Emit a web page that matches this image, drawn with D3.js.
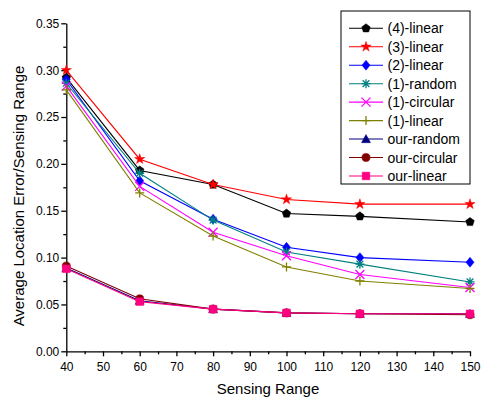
<!DOCTYPE html>
<html>
<head>
<meta charset="utf-8">
<script src="https://cdn.jsdelivr.net/npm/d3@7"></script>
<style>
  body { margin: 0; background: #fff; }
  svg text { font-family: "Liberation Sans", Arial, sans-serif; fill: #000; }
</style>
</head>
<body>
<svg id="chart" width="481" height="400"></svg>
<script>
// sensing range on x
var ranges = [40, 60, 80, 100, 120, 150];

var names = ["(4)-linear", "(3)-linear", "(2)-linear", "(1)-random", "(1)-circular",
             "(1)-linear", "our-random", "our-circular", "our-linear"];

var linear4   = [0.292, 0.193, 0.178, 0.147, 0.144, 0.138];
var linear3   = [0.300, 0.205, 0.178, 0.162, 0.157, 0.157];
var linear2   = [0.290, 0.182, 0.141, 0.111, 0.100, 0.095];
var random1   = [0.286, 0.190, 0.140, 0.106, 0.093, 0.074];
var circular1 = [0.283, 0.176, 0.127, 0.102, 0.082, 0.068];
var linear1   = [0.279, 0.169, 0.123, 0.090, 0.075, 0.067];
var ourRandom   = [0.089, 0.054, 0.045, 0.041, 0.040, 0.040];
var ourCircular = [0.091, 0.056, 0.045, 0.041, 0.040, 0.039];
var ourLinear   = [0.088, 0.053, 0.045, 0.041, 0.040, 0.040];

var seriesValues = [linear4, linear3, linear2, random1, circular1, linear1, ourRandom, ourCircular, ourLinear];
var colors = ["#000000", "#ff0000", "#0000ff", "#008080", "#ff00ff", "#808000", "#000080", "#800000", "#ff0080"];
var shapes = ["pentagon", "star", "diamond", "asterisk", "cross", "plus", "triangle", "circle", "square"];

var xTicks = [40, 50, 60, 70, 80, 90, 100, 110, 120, 130, 140, 150];
var yTicks = [0, 0.05, 0.10, 0.15, 0.20, 0.25, 0.30, 0.35];

var svg = d3.select("#chart");
var x = d3.scaleLinear().domain([40, 150]).range([66.3, 470]);
var y = d3.scaleLinear().domain([0, 0.35]).range([351.3, 23.3]);

// axes
var xAxis = svg.append("g").attr("transform", "translate(0," + y(0) + ")")
    .call(d3.axisBottom(x).tickValues(xTicks).tickFormat(d3.format("d")).tickSize(5).tickSizeOuter(0));
svg.append("g").attr("transform", "translate(0," + y(0) + ")")
    .call(d3.axisBottom(x).tickValues(d3.range(45, 150, 10)).tickFormat("").tickSize(3).tickSizeOuter(0))
    .select(".domain").remove();
var yAxis = svg.append("g").attr("transform", "translate(" + x(40) + ",0)")
    .call(d3.axisLeft(y).tickValues(yTicks).tickFormat(d3.format(".2f")).tickSize(5).tickSizeOuter(0));
svg.append("g").attr("transform", "translate(" + x(40) + ",0)")
    .call(d3.axisLeft(y).tickValues(d3.range(0.025, 0.35, 0.05)).tickFormat("").tickSize(3).tickSizeOuter(0))
    .select(".domain").remove();

svg.selectAll(".tick text").attr("font-size", 12).style("font-family", "Liberation Sans, Arial, sans-serif");
xAxis.selectAll(".tick text").attr("dy", "0.95em");
yAxis.selectAll(".tick text").attr("x", -7);
svg.selectAll(".domain, .tick line").attr("stroke", "#000").attr("stroke-width", 1.3);

svg.append("text").attr("x", 268).attr("y", 394).attr("text-anchor", "middle")
    .attr("font-size", 15).text("Sensing Range");
svg.append("text").attr("transform", "translate(24," + 196 + ") rotate(-90)")
    .attr("text-anchor", "middle").attr("font-size", 15)
    .text("Average Location Error/Sensing Range");

function markerPath(shape, s) {
    var p = d3.path();
    if (shape === "pentagon") {
        for (var i = 0; i < 5; i++) {
            var a = -Math.PI / 2 + i * 2 * Math.PI / 5;
            if (i === 0) p.moveTo(s * Math.cos(a), s * Math.sin(a)); else p.lineTo(s * Math.cos(a), s * Math.sin(a));
        }
        p.closePath();
        return p.toString();
    }
    if (shape === "star") return d3.symbol(d3.symbolStar, s * s * 1.6)();
    if (shape === "diamond") { p.moveTo(0, -s * 1.1); p.lineTo(s * 0.9, 0); p.lineTo(0, s * 1.1); p.lineTo(-s * 0.9, 0); p.closePath(); return p.toString(); }
    if (shape === "triangle") { p.moveTo(0, -s); p.lineTo(s, s * 0.8); p.lineTo(-s, s * 0.8); p.closePath(); return p.toString(); }
    if (shape === "circle") return d3.symbol(d3.symbolCircle, s * s * 2.6)();
    if (shape === "square") { p.rect(-s * 0.85, -s * 0.85, s * 1.7, s * 1.7); return p.toString(); }
    if (shape === "cross") { p.moveTo(-s, -s); p.lineTo(s, s); p.moveTo(-s, s); p.lineTo(s, -s); return p.toString(); }
    if (shape === "plus") { p.moveTo(-s, 0); p.lineTo(s, 0); p.moveTo(0, -s); p.lineTo(0, s); return p.toString(); }
    if (shape === "asterisk") {
        p.moveTo(-s, 0); p.lineTo(s, 0); p.moveTo(0, -s); p.lineTo(0, s);
        p.moveTo(-s * 0.75, -s * 0.75); p.lineTo(s * 0.75, s * 0.75);
        p.moveTo(-s * 0.75, s * 0.75); p.lineTo(s * 0.75, -s * 0.75);
        return p.toString();
    }
}
function isOpen(shape) { return shape === "cross" || shape === "plus" || shape === "asterisk"; }

var line = d3.line().x(function(d, i) { return x(ranges[i]); }).y(function(d) { return y(d); });

var plot = svg.append("g");
seriesValues.forEach(function(vals, k) {
    var g = plot.append("g");
    g.append("path").attr("d", line(vals)).attr("fill", "none")
        .attr("stroke", colors[k]).attr("stroke-width", 1.1);
    g.selectAll("path.m").data(vals).enter().append("path").attr("class", "m")
        .attr("transform", function(d, i) { return "translate(" + x(ranges[i]) + "," + y(d) + ")"; })
        .attr("d", markerPath(shapes[k], 4.5))
        .attr("fill", isOpen(shapes[k]) ? "none" : colors[k])
        .attr("stroke", colors[k]).attr("stroke-width", isOpen(shapes[k]) ? 1.3 : 0.5);
});

// legend
var legend = svg.append("g");
legend.append("rect").attr("x", 341).attr("y", 11).attr("width", 129).attr("height", 173)
    .attr("fill", "#fff").attr("stroke", "#000").attr("stroke-width", 1);
names.forEach(function(name, k) {
    var yy = 28.3 + k * 18.46;
    legend.append("line").attr("x1", 349).attr("x2", 383).attr("y1", yy).attr("y2", yy)
        .attr("stroke", colors[k]).attr("stroke-width", 1.1);
    legend.append("path").attr("transform", "translate(366," + yy + ")")
        .attr("d", markerPath(shapes[k], 4.5))
        .attr("fill", isOpen(shapes[k]) ? "none" : colors[k])
        .attr("stroke", colors[k]).attr("stroke-width", isOpen(shapes[k]) ? 1.3 : 0.5);
    legend.append("text").attr("x", 387.5).attr("y", yy).attr("dy", "0.36em")
        .attr("font-size", 14).text(name);
});
</script>
</body>
</html>
